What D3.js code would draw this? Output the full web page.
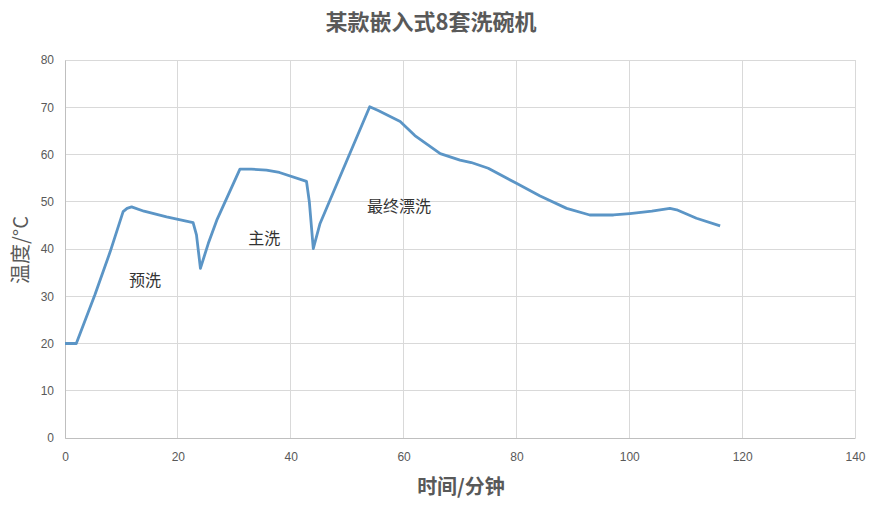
<!DOCTYPE html>
<html><head><meta charset="utf-8">
<script src="https://cdn.jsdelivr.net/npm/d3@7"></script>
<style>body{margin:0;background:#fff}</style>
</head><body>
<svg id="c" width="875" height="512"></svg>
<script>
const times = [0, 2.0, 5.3, 8.0, 10.3, 11.0, 11.8, 14, 18, 22.7, 23.3, 24.0, 25.4, 26.9, 31.0, 33, 35.7, 38, 42.8, 43.3, 44.0, 45.2, 54.0, 55.5, 59.4, 62, 66.5, 70.0, 72, 75.0, 80.0, 84.2, 88.9, 93.0, 97.2, 100.1, 104, 107.2, 108.4, 111.9, 116.1];
const temps = [20, 20, 30.3, 39.4, 47.9, 48.6, 48.9, 48.0, 46.8, 45.6, 43, 35.9, 41.2, 46.1, 56.9, 56.9, 56.7, 56.2, 54.3, 50, 40.1, 45.4, 70.1, 69.3, 67.0, 64.0, 60.2, 58.8, 58.3, 57.1, 53.9, 51.2, 48.6, 47.2, 47.2, 47.5, 48.0, 48.6, 48.3, 46.5, 44.9];
const xTicks = [0, 20, 40, 60, 80, 100, 120, 140];
const yTicks = [0, 10, 20, 30, 40, 50, 60, 70, 80];
const phaseLabels = ["预洗", "主洗", "最终漂洗"];
const phaseX = [14.2, 35.3, 59.2];
const phaseY = [32.2, 41.0, 47.9];

const svg = d3.select("#c");
const x = d3.scaleLinear().domain([0, 140]).range([65, 855]);
const y = d3.scaleLinear().domain([0, 80]).range([438, 60]);

// grid
svg.append("g").selectAll("line.h").data(yTicks).join("line")
  .attr("x1", 65).attr("x2", 855).attr("y1", d => y(d)).attr("y2", d => y(d))
  .attr("stroke", "#d9d9d9").attr("stroke-width", 1).attr("shape-rendering", "crispEdges");
svg.append("g").selectAll("line.v").data(xTicks).join("line")
  .attr("x1", d => x(d)).attr("x2", d => x(d)).attr("y1", 60).attr("y2", 438)
  .attr("stroke", "#d9d9d9").attr("stroke-width", 1).attr("shape-rendering", "crispEdges");

// axes
const xa = svg.append("g").attr("transform", "translate(0,438)")
  .call(d3.axisBottom(x).tickValues(xTicks).tickSize(0).tickPadding(14));
const ya = svg.append("g").attr("transform", "translate(65,0)")
  .call(d3.axisLeft(y).tickValues(yTicks).tickSize(0).tickPadding(11));
[xa, ya].forEach(g => {
  g.select(".domain").attr("stroke", "#bfbfbf");
  g.selectAll("text").attr("fill", "#595959").attr("font-size", "12px")
    .attr("font-family", "'Liberation Sans Narrow','Liberation Sans',sans-serif");
});

// line
const pts = times.map((t, i) => [t, temps[i]]);
svg.append("path").datum(pts)
  .attr("d", d3.line().x(d => x(d[0])).y(d => y(d[1])).curve(d3.curveLinear))
  .attr("fill", "none").attr("stroke", "#5b95c6").attr("stroke-width", 2.8)
  .attr("stroke-linejoin", "round");

// phase labels
svg.append("g").selectAll("text").data(phaseLabels).join("text")
  .attr("x", (d, i) => x(phaseX[i])).attr("y", (d, i) => y(phaseY[i]))
  .attr("text-anchor", "middle").attr("font-size", "16px")
  .attr("font-family", "'Noto Sans CJK SC',sans-serif").attr("fill", "#333")
  .text(d => d);

// title
svg.append("text").attr("x", 431).attr("y", 30).attr("text-anchor", "middle")
  .attr("font-size", "22px").attr("font-weight", "bold").attr("fill", "#595959")
  .attr("font-family", "'Noto Sans CJK SC',sans-serif").text("某款嵌入式8套洗碗机");

// axis titles
svg.append("text").attr("x", 461).attr("y", 494).attr("text-anchor", "middle")
  .attr("font-size", "20px").attr("font-weight", "bold").attr("fill", "#595959")
  .attr("font-family", "'Noto Sans CJK SC',sans-serif").text("时间/分钟");
svg.append("text").attr("transform", "translate(28,250) rotate(-90)").attr("text-anchor", "middle")
  .attr("font-size", "20px").attr("fill", "#595959")
  .attr("font-family", "'Noto Sans CJK SC',sans-serif").text("温度/°C");
</script>
</body></html>
